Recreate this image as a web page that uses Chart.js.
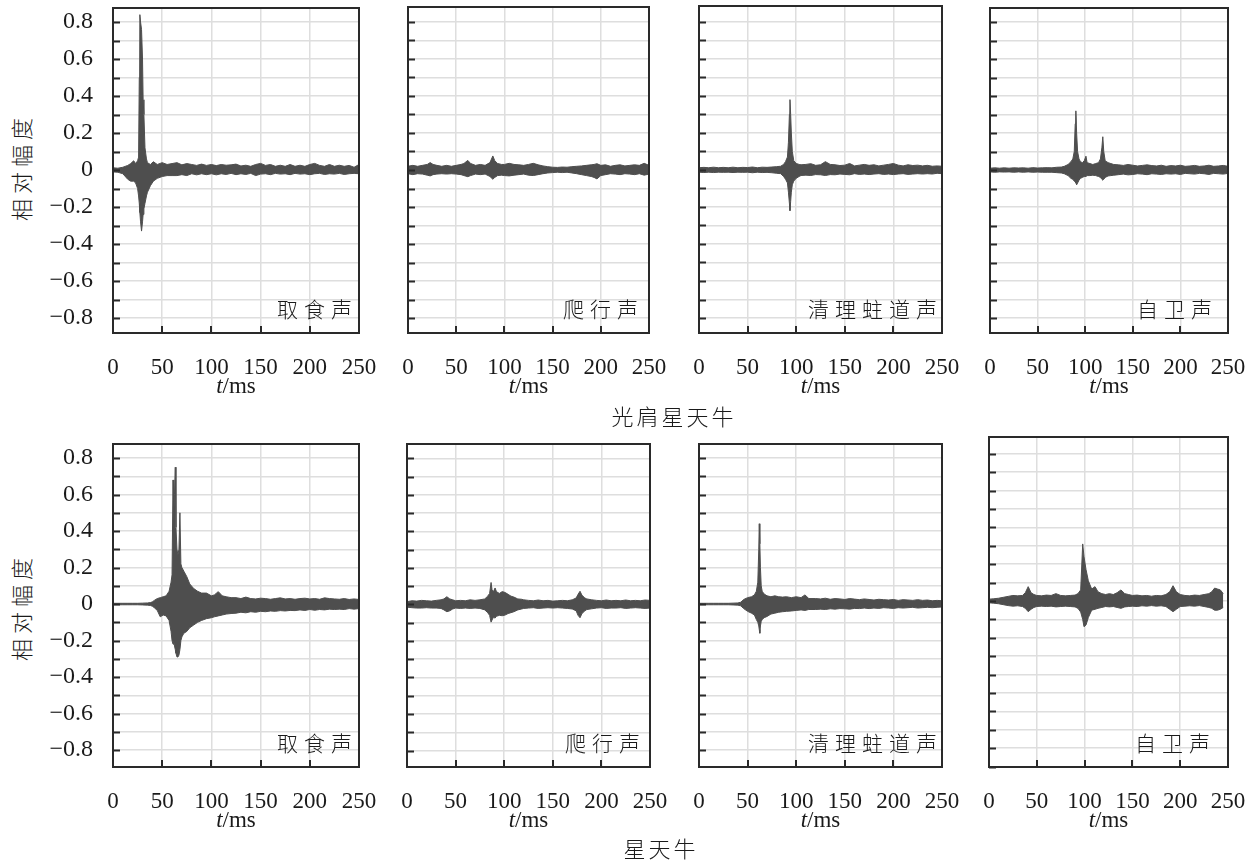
<!DOCTYPE html>
<html>
<head>
<meta charset="utf-8">
<script src="https://cdn.jsdelivr.net/npm/chart.js@4/dist/chart.umd.min.js"></script>
<style>
  body { margin: 0; background: #fff; }
  #page { position: relative; width: 1257px; height: 861px; overflow: hidden; background: #fff; }
  #page canvas { position: absolute; }
  .txt { position: absolute; white-space: nowrap; color: #1a1a1a; line-height: 1; }
  .cjk { font-family: "Noto Sans CJK SC", sans-serif; font-weight: 300; }
  .serif { font-family: "Liberation Serif", serif; }
</style>
</head>
<body>
<div id="page"></div>
<script>

// 光肩星天牛 取食声
const gjFeedT  = [0,5,10,15,18,21,23,25, 26,26.7,27.3,28,29,30,30.6,31.4,32.5,34, 35,38,41,45,
  50,55,60,65,70,75,80,85,90,95,100,105,110,115,120,125,130,135,140,145,150,155,160,165,170,175,180,185,190,195,200,205,210,215,220,225,230,235,240,245,250];
const gjFeedHi = [0.012,0.01,0.015,0.025,0.035,0.05,0.035,0.05, 0.07,0.5,0.84,0.8,0.76,0.6,0.38,0.3,0.12,0.06, 0.04,0.03,0.045,0.03,
  0.04,0.03,0.035,0.04,0.028,0.035,0.03,0.025,0.032,0.025,0.03,0.024,0.03,0.026,0.028,0.032,0.022,0.026,0.02,0.03,0.036,0.025,0.03,0.02,0.026,0.02,0.03,0.02,0.026,0.02,0.03,0.036,0.025,0.02,0.03,0.02,0.026,0.02,0.025,0.015,0.03];
const gjFeedLo = [-0.01,-0.012,-0.02,-0.05,-0.06,-0.06,-0.07,-0.1, -0.14,-0.18,-0.23,-0.28,-0.33,-0.28,-0.24,-0.21,-0.18,-0.14, -0.12,-0.085,-0.06,-0.045,
  -0.035,-0.03,-0.03,-0.03,-0.025,-0.03,-0.02,-0.026,-0.02,-0.025,-0.02,-0.026,-0.02,-0.024,-0.018,-0.025,-0.02,-0.024,-0.018,-0.03,-0.022,-0.02,-0.025,-0.018,-0.022,-0.02,-0.025,-0.018,-0.022,-0.02,-0.025,-0.02,-0.018,-0.024,-0.02,-0.022,-0.018,-0.024,-0.02,-0.018,-0.02];

// 光肩星天牛 爬行声
const gjCrawlT  = [0,5,10,15,20, 23,26,30,35,40,45,50,55,58, 62,65,70,75,80,85,88,90,93,97,
  100,105,110,115,120,125,130,135,140,145,150,155,160,165,170,175,180,185,190, 193,196, 200,205,210,215,220,225,230,235,240,245,250];
const gjCrawlHi = [0.02,0.025,0.02,0.025,0.03, 0.04,0.03,0.025,0.02,0.025,0.02,0.025,0.03,0.035, 0.052,0.035,0.025,0.03,0.025,0.04,0.076,0.05,0.035,0.03,
  0.03,0.036,0.03,0.028,0.025,0.03,0.036,0.028,0.022,0.018,0.015,0.014,0.016,0.015,0.018,0.02,0.022,0.025,0.028, 0.03,0.034, 0.025,0.028,0.02,0.025,0.028,0.022,0.025,0.028,0.025,0.036,0.025];
const gjCrawlLo = [-0.02,-0.025,-0.02,-0.022,-0.028, -0.032,-0.025,-0.022,-0.02,-0.022,-0.02,-0.022,-0.025,-0.03, -0.036,-0.03,-0.022,-0.025,-0.022,-0.035,-0.05,-0.04,-0.03,-0.028,
  -0.03,-0.032,-0.028,-0.025,-0.022,-0.028,-0.03,-0.025,-0.02,-0.016,-0.014,-0.012,-0.014,-0.012,-0.016,-0.02,-0.025,-0.03,-0.035, -0.04,-0.048, -0.03,-0.025,-0.02,-0.022,-0.025,-0.02,-0.022,-0.025,-0.02,-0.028,-0.022];

// 光肩星天牛 清理蛀道声
const gjCleanT  = [0,5,10,15,20,25,30,35,40,45,50,55,60,65,70,75,80, 84,87,89,91,92,93,93.6,94.3,95,96,97.5,100,103,
  105,110,115,120,125,130,135,140,145,150,155,160,165,170,175,180,185,190,195,200,205,210,215,220,225,230,235,240,245,250];
const gjCleanHi = [0.012,0.014,0.012,0.015,0.012,0.014,0.012,0.015,0.012,0.014,0.013,0.016,0.012,0.015,0.014,0.016,0.018,
  0.02,0.03,0.045,0.07,0.15,0.3,0.38,0.3,0.2,0.1,0.05,0.035,0.03,
  0.028,0.03,0.034,0.025,0.028,0.045,0.03,0.028,0.024,0.026,0.035,0.022,0.026,0.03,0.025,0.028,0.022,0.026,0.03,0.035,0.026,0.022,0.028,0.024,0.026,0.022,0.025,0.02,0.022,0.02];
const gjCleanLo = [-0.012,-0.014,-0.012,-0.014,-0.012,-0.013,-0.012,-0.014,-0.012,-0.013,-0.012,-0.015,-0.012,-0.014,-0.013,-0.015,-0.018,
  -0.02,-0.035,-0.05,-0.07,-0.12,-0.18,-0.22,-0.17,-0.12,-0.08,-0.06,-0.045,-0.035,
  -0.03,-0.028,-0.03,-0.025,-0.026,-0.03,-0.025,-0.026,-0.022,-0.024,-0.026,-0.02,-0.024,-0.022,-0.025,-0.022,-0.02,-0.024,-0.022,-0.025,-0.022,-0.02,-0.024,-0.022,-0.02,-0.022,-0.02,-0.022,-0.018,-0.02];

// 光肩星天牛 自卫声
const gjDefendT  = [0,5,10,15,20,25,30,35,40,45,50,55,60,65,70,75,
  78,82,85,87,88.5,89.5,90.2,91,92,93.5,95,97,99,100.8,102,105,108,111,114,116,117.5,118.5,119.5,121,124,127,
  130,135,140,145,150,155,160,165,170,175,180,185,190,195,200,205,210,215,220,225,230,235,240,245,250];
const gjDefendHi = [0.01,0.012,0.01,0.012,0.01,0.012,0.011,0.012,0.01,0.013,0.011,0.012,0.013,0.012,0.015,0.016,
  0.02,0.03,0.045,0.06,0.1,0.25,0.32,0.2,0.1,0.06,0.045,0.04,0.05,0.075,0.04,0.035,0.03,0.035,0.04,0.06,0.12,0.18,0.1,0.05,0.04,0.035,
  0.03,0.028,0.025,0.03,0.026,0.022,0.025,0.028,0.024,0.022,0.026,0.02,0.024,0.022,0.026,0.02,0.022,0.025,0.02,0.022,0.026,0.02,0.022,0.025,0.02];
const gjDefendLo = [-0.01,-0.012,-0.01,-0.011,-0.01,-0.012,-0.01,-0.012,-0.01,-0.012,-0.011,-0.012,-0.012,-0.012,-0.014,-0.016,
  -0.02,-0.03,-0.045,-0.05,-0.06,-0.065,-0.07,-0.08,-0.07,-0.055,-0.045,-0.04,-0.035,-0.035,-0.03,-0.03,-0.028,-0.03,-0.035,-0.04,-0.05,-0.055,-0.05,-0.04,-0.032,-0.03,
  -0.028,-0.025,-0.022,-0.026,-0.024,-0.02,-0.022,-0.025,-0.02,-0.022,-0.024,-0.02,-0.022,-0.02,-0.024,-0.018,-0.02,-0.022,-0.018,-0.02,-0.024,-0.018,-0.02,-0.022,-0.018];

// 星天牛 取食声
const xtFeedT  = [0,5,10,15,20,25,30,35,
  38,40,42,45,48,51,54,57,59,60,61,61.8,62.5,63.3,64,65,66,67,68,69,70,72,75,78,82,86,90,95,100,103,107,111,115,120,
  125,130,135,140,145,150,155,160,165,170,175,180,185,190,195,200,205,210,215,220,225,230,235,240,245,250];
const xtFeedHi = [0.004,0.004,0.004,0.004,0.004,0.004,0.005,0.006,
  0.008,0.012,0.02,0.03,0.035,0.04,0.045,0.07,0.12,0.16,0.68,0.5,0.6,0.75,0.42,0.3,0.27,0.3,0.5,0.22,0.2,0.18,0.15,0.11,0.085,0.07,0.06,0.06,0.045,0.05,0.068,0.045,0.04,0.035,
  0.035,0.03,0.038,0.03,0.028,0.032,0.03,0.026,0.03,0.034,0.028,0.03,0.026,0.03,0.032,0.028,0.03,0.026,0.034,0.03,0.028,0.026,0.03,0.025,0.028,0.025];
const xtFeedLo = [-0.004,-0.004,-0.004,-0.004,-0.004,-0.004,-0.005,-0.006,
  -0.008,-0.012,-0.02,-0.035,-0.07,-0.06,-0.065,-0.09,-0.15,-0.2,-0.22,-0.2,-0.23,-0.25,-0.27,-0.29,-0.29,-0.28,-0.25,-0.2,-0.18,-0.16,-0.15,-0.13,-0.115,-0.1,-0.09,-0.08,-0.075,-0.07,-0.065,-0.06,-0.055,-0.052,
  -0.05,-0.045,-0.048,-0.042,-0.045,-0.04,-0.042,-0.038,-0.04,-0.036,-0.038,-0.035,-0.036,-0.032,-0.035,-0.03,-0.034,-0.03,-0.032,-0.028,-0.03,-0.028,-0.03,-0.025,-0.028,-0.025];

// 星天牛 爬行声
const xtCrawlT  = [0,5,10,15,20,25,30,35,
  38,41,44,47,50,55,60,65,70,75,80,83,85,86.5,87.5,89,90.6,92,95,98,101,104,107,110,114,118,
  120,125,130,135,140,145,150,155,160,165,170, 174,176,178,180,183,
  185,190,195,200,205,210,215,220,225,230,235,240,245,250];
const xtCrawlHi = [0.015,0.02,0.018,0.022,0.02,0.018,0.022,0.025,
  0.03,0.042,0.03,0.025,0.02,0.022,0.02,0.025,0.022,0.025,0.03,0.045,0.06,0.12,0.08,0.07,0.09,0.07,0.06,0.07,0.065,0.055,0.045,0.04,0.03,0.028,
  0.025,0.022,0.02,0.024,0.02,0.022,0.018,0.02,0.022,0.02,0.025, 0.035,0.055,0.072,0.05,0.035,
  0.03,0.025,0.022,0.02,0.024,0.02,0.022,0.02,0.024,0.02,0.022,0.02,0.024,0.022];
const xtCrawlLo = [-0.015,-0.018,-0.02,-0.02,-0.018,-0.02,-0.02,-0.022,
  -0.03,-0.04,-0.035,-0.025,-0.02,-0.022,-0.02,-0.022,-0.02,-0.022,-0.03,-0.045,-0.06,-0.097,-0.085,-0.07,-0.075,-0.065,-0.06,-0.062,-0.058,-0.05,-0.045,-0.04,-0.03,-0.025,
  -0.022,-0.02,-0.018,-0.022,-0.02,-0.018,-0.02,-0.018,-0.02,-0.022,-0.025, -0.035,-0.06,-0.073,-0.05,-0.035,
  -0.028,-0.024,-0.02,-0.018,-0.022,-0.02,-0.02,-0.018,-0.022,-0.02,-0.018,-0.02,-0.022,-0.02];

// 星天牛 清理蛀道声
const xtCleanT  = [0,5,10,15,20,25,30,35,40,
  43,46,50,54,57,59,60.5,61.5,62,62.6,63.2,64,65,67,70,74,78,82,86,90,95,100,105,109,113,
  120,125,130,135,140,145,150,155,160,165,170,175,180,185,190,195,200,205,210,215,220,225,230,235,240,245,250];
const xtCleanHi = [0.004,0.004,0.004,0.004,0.004,0.004,0.004,0.005,0.006,
  0.01,0.025,0.035,0.04,0.05,0.07,0.12,0.3,0.44,0.33,0.2,0.1,0.07,0.055,0.045,0.04,0.045,0.04,0.038,0.04,0.035,0.04,0.035,0.05,0.03,
  0.03,0.028,0.032,0.026,0.03,0.028,0.025,0.03,0.027,0.024,0.028,0.025,0.022,0.026,0.024,0.022,0.025,0.02,0.024,0.022,0.02,0.024,0.02,0.022,0.018,0.02,0.018];
const xtCleanLo = [-0.004,-0.004,-0.004,-0.004,-0.004,-0.004,-0.004,-0.005,-0.006,
  -0.01,-0.025,-0.04,-0.05,-0.06,-0.085,-0.1,-0.12,-0.14,-0.16,-0.12,-0.095,-0.085,-0.075,-0.068,-0.055,-0.05,-0.045,-0.042,-0.04,-0.038,-0.035,-0.032,-0.035,-0.03,
  -0.03,-0.028,-0.03,-0.026,-0.028,-0.025,-0.026,-0.028,-0.024,-0.025,-0.022,-0.025,-0.022,-0.024,-0.02,-0.022,-0.024,-0.02,-0.022,-0.02,-0.018,-0.022,-0.02,-0.018,-0.02,-0.018,-0.016];

// 星天牛 自卫声
const xtDefendT  = [0,5,10,15,20,25,30,35, 38,41,44,47, 50,55,60,65,70,75,80,85,90,
  93,95.9,98,99.4,101.5,103.9,107.4,110.9, 114,118,122,126,130,134,138,142,146,
  150,155,160,165,170,175,180,185, 189,192.5,196, 200,205,210,215,220,225,230, 233,236,239,242,245];
const xtDefendHi = [0.01,0.012,0.015,0.02,0.025,0.03,0.028,0.03, 0.045,0.078,0.045,0.035, 0.03,0.028,0.032,0.03,0.04,0.03,0.028,0.03,0.032,
  0.04,0.06,0.31,0.24,0.17,0.11,0.065,0.078, 0.05,0.04,0.035,0.04,0.035,0.045,0.06,0.04,0.035,
  0.03,0.032,0.028,0.03,0.026,0.03,0.028,0.035, 0.05,0.083,0.05, 0.035,0.03,0.028,0.032,0.03,0.035,0.04, 0.05,0.07,0.065,0.06,0.04];
const xtDefendLo = [-0.01,-0.012,-0.015,-0.02,-0.025,-0.028,-0.026,-0.03, -0.04,-0.058,-0.045,-0.035, -0.03,-0.028,-0.03,-0.028,-0.032,-0.03,-0.028,-0.03,-0.032,
  -0.04,-0.06,-0.1,-0.14,-0.13,-0.09,-0.05,-0.045, -0.04,-0.035,-0.03,-0.032,-0.03,-0.035,-0.04,-0.032,-0.03,
  -0.028,-0.03,-0.026,-0.028,-0.025,-0.028,-0.026,-0.03, -0.045,-0.058,-0.045, -0.03,-0.028,-0.026,-0.028,-0.025,-0.03,-0.035, -0.04,-0.05,-0.05,-0.045,-0.035];

const SOUNDS = ["取食声", "爬行声", "清理蛀道声", "自卫声"];
const SPECIES = ["光肩星天牛", "星天牛"];
const X_TICKS = [0, 50, 100, 150, 200, 250];

const WAVES = [
  [gjFeedT, gjFeedHi, gjFeedLo], [gjCrawlT, gjCrawlHi, gjCrawlLo],
  [gjCleanT, gjCleanHi, gjCleanLo], [gjDefendT, gjDefendHi, gjDefendLo],
  [xtFeedT, xtFeedHi, xtFeedLo], [xtCrawlT, xtCrawlHi, xtCrawlLo],
  [xtCleanT, xtCleanHi, xtCleanLo], [xtDefendT, xtDefendHi, xtDefendLo],
];

// plot frames on the page (px) and the amplitude span each one shows
const FRAMES = [
  { l: 113, r: 359, t: 8,   b: 333, min: -0.881, max: 0.876 },
  { l: 408, r: 649, t: 7,   b: 333, min: -0.881, max: 0.881 },
  { l: 699, r: 942, t: 6,   b: 333, min: -0.881, max: 0.886 },
  { l: 990, r: 1228, t: 8,  b: 333, min: -0.881, max: 0.876 },
  { l: 113, r: 359, t: 444, b: 767, min: -0.893, max: 0.877 },
  { l: 407, r: 650, t: 444, b: 767, min: -0.890, max: 0.878 },
  { l: 699, r: 942, t: 444, b: 767, min: -0.893, max: 0.877 },
  { l: 989, r: 1228, t: 437, b: 767, min: -0.902, max: 0.891 },
];
const LABEL_INSET = [7, 11, 5, 16, 7, 10, 5, 18];

const WAVE = "#4e4e4e";
const GRID = "#dedede";
const INK = "#1a1a1a";

const page = document.getElementById("page");

const frameTicks = {
  id: "frameTicks",
  afterDatasetsDraw(chart) {
    const { ctx, chartArea: a, scales } = chart;
    ctx.save();
    ctx.strokeStyle = "#2a2a2a";
    ctx.lineWidth = 2;
    ctx.beginPath();
    scales.y.ticks.forEach(t => {
      const py = Math.round(scales.y.getPixelForValue(t.value)) + 0.5;
      ctx.moveTo(a.left, py);
      ctx.lineTo(a.left + 7, py);
    });
    scales.x.ticks.forEach(t => {
      if (t.value <= 0 || t.value >= 250) return;
      const px = Math.round(scales.x.getPixelForValue(t.value));
      ctx.moveTo(px, a.bottom);
      ctx.lineTo(px, a.bottom - 7);
    });
    ctx.stroke();
    ctx.strokeRect(a.left, a.top, a.right - a.left, a.bottom - a.top);
    ctx.restore();
  }
};

function yLabel(v) {
  const k = Math.round(v * 10);
  if (k % 2 !== 0 || Math.abs(k) > 8) return "";
  if (k === 0) return "0";
  return (k < 0 ? "\u2212" : "") + (Math.abs(k) / 10).toFixed(1);
}

// keep the plot area fixed: no extra room for labels that overhang the frame
function noOverhang(s) {
  s.paddingTop = 0; s.paddingBottom = 0; s.paddingLeft = 0; s.paddingRight = 0;
}

function addText(html, cls, x, y, css) {
  const d = document.createElement("div");
  d.className = "txt " + cls;
  d.innerHTML = html;
  d.style.left = x + "px";
  d.style.top = y + "px";
  Object.assign(d.style, css || {});
  page.appendChild(d);
  return d;
}

FRAMES.forEach((f, i) => {
  const first = i % 4 === 0;
  const padL = first ? 73 : 20, padR = 24, padT = 3, axisH = 52;
  const cv = document.createElement("canvas");
  cv.width = f.r - f.l + padL + padR;
  cv.height = f.b - f.t + padT + axisH;
  cv.style.left = (f.l - padL) + "px";
  cv.style.top = (f.t - padT) + "px";
  page.appendChild(cv);

  const [t, hi, lo] = WAVES[i];
  new Chart(cv, {
    type: "line",
    data: {
      datasets: [
        { data: t.map((x, k) => ({ x, y: hi[k] })), borderColor: WAVE, borderWidth: 1, pointRadius: 0, fill: false },
        { data: t.map((x, k) => ({ x, y: lo[k] })), borderColor: WAVE, borderWidth: 1, pointRadius: 0, fill: "-1", backgroundColor: WAVE },
      ],
    },
    options: {
      responsive: false,
      animation: false,
      events: [],
      layout: { padding: { top: padT, right: padR, left: 0, bottom: 0 } },
      plugins: { legend: { display: false }, tooltip: { enabled: false } },
      scales: {
        x: {
          type: "linear", min: 0, max: 250,
          afterBuildTicks: s => { s.ticks = X_TICKS.map(v => ({ value: v })); },
          afterFit: s => { s.height = axisH; noOverhang(s); },
          border: { display: false },
          grid: { color: GRID, lineWidth: 1.5, drawTicks: false },
          ticks: { autoSkip: false, maxRotation: 0, padding: 21, color: INK,
                   font: { family: "Liberation Serif", size: 23 } },
        },
        y: {
          min: f.min, max: f.max,
          afterFit: s => { s.width = padL; noOverhang(s); },
          border: { display: false },
          grid: { color: GRID, lineWidth: 1.5, drawTicks: false },
          ticks: { display: first, stepSize: 0.1, includeBounds: false, autoSkip: false, padding: 20, color: INK,
                   font: { family: "Liberation Serif", size: 24 }, callback: yLabel },
        },
      },
    },
    plugins: [frameTicks],
  });

  const cx = (f.l + f.r) / 2;
  addText("<i>t</i>/ms", "serif", cx, f.b + 52, { fontSize: "23px", transform: "translate(-50%,-50%)" });
  addText(SOUNDS[i % 4], "cjk", f.r - LABEL_INSET[i] + 6, f.b - 25,
          { fontSize: "21px", letterSpacing: "6px", transform: "translate(-100%,-50%)" });
});

// shared amplitude titles and species captions
[167, 607].forEach(y => {
  addText("相对幅度", "cjk", 20, y, { fontSize: "22px", letterSpacing: "5px",
          transform: "translate(-50%,-50%) rotate(-90deg)" });
});
addText(SPECIES[0], "cjk", 674, 415, { fontSize: "22px", letterSpacing: "3px", transform: "translate(-50%,-50%)" });
addText(SPECIES[1], "cjk", 661, 847, { fontSize: "22px", letterSpacing: "3px", transform: "translate(-50%,-50%)" });
</script>
</body>
</html>
